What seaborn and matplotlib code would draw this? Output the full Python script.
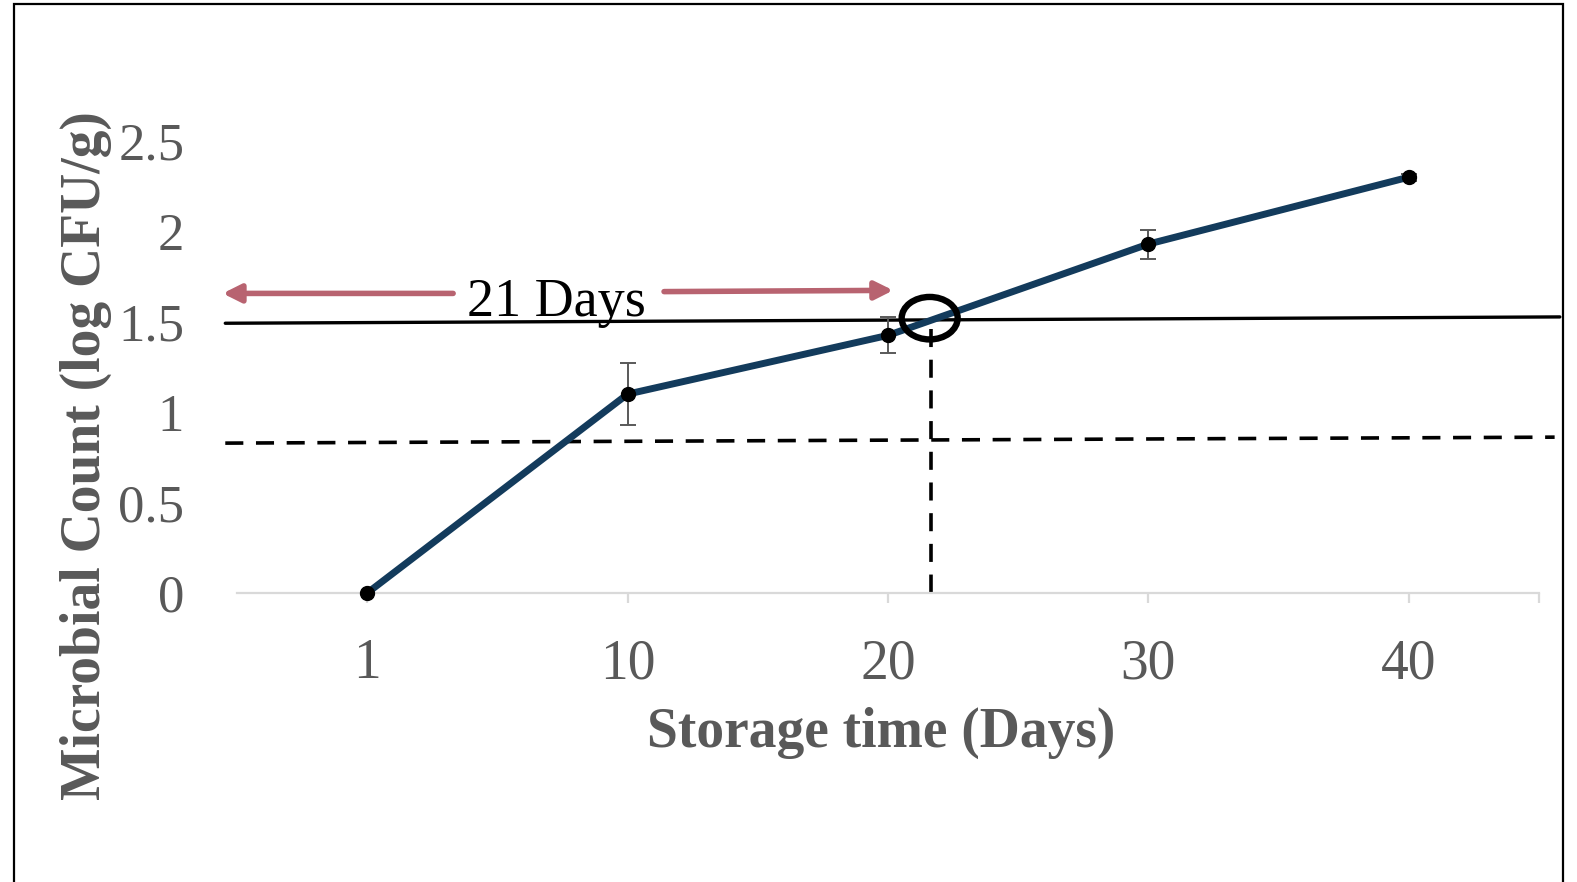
import matplotlib
matplotlib.use("Agg")
import matplotlib.pyplot as plt
import seaborn as sns
import pandas as pd
from matplotlib.patches import Ellipse, Rectangle

# ---- data ----
days = ["1", "10", "20", "30", "40"]
counts = [0.0, 1.10, 1.425, 1.93, 2.30]
errors = [0.0, 0.17, 0.10, 0.08, 0.02]
y_ticks = [0, 0.5, 1, 1.5, 2, 2.5]
y_tick_labels = ["0", "0.5", "1", "1.5", "2", "2.5"]

# annotation values
limit_line_x = [-0.545, 4.58]
limit_line_y = [1.492, 1.527]
dashed_line_x = [-0.545, 4.56]
dashed_line_y = [0.829, 0.862]
shelf_x = 2.165
shelf_y = [1.46, -0.06]
label_text = "21 Days"

sns.set_theme(style="white")
plt.rcParams["font.family"] = ["Liberation Serif", "DejaVu Serif"]

fig = plt.figure(figsize=(15.77, 8.82), dpi=100)
ax = fig.add_axes([237 / 1577, 1 - 593 / 882, 1302 / 1577, 452 / 882])

df = pd.DataFrame({"Day": days, "Count": counts, "Err": errors})

sns.lineplot(data=df, x="Day", y="Count", ax=ax, color="#133B5C",
             linewidth=5.0, sort=False, zorder=3, clip_on=False)
ax.errorbar(df["Day"], df["Count"], yerr=df["Err"], fmt="none",
            ecolor="#595959", elinewidth=1.4, capsize=6, capthick=1.4,
            zorder=2, clip_on=False)
ax.plot(df["Day"], df["Count"], "o", color="black", markersize=10,
        zorder=4, clip_on=False)

# annotations
ax.plot(limit_line_x, limit_line_y, color="black", lw=2.4, clip_on=False, zorder=1)
ax.plot(dashed_line_x, dashed_line_y, color="black", lw=2.6,
        linestyle=(0, (5, 3.5)), clip_on=False, zorder=1)
ax.plot([shelf_x, shelf_x], shelf_y, color="black", lw=2.6,
        linestyle=(0, (5, 3.5)), clip_on=False, zorder=1)
ax.add_patch(Ellipse((2.16, 1.52), 0.215, 0.235, fill=False, edgecolor="black",
                     lw=4.6, clip_on=False, zorder=5))

arrow_col = "#B86370"
ax.annotate("", xy=(-0.555, 1.657), xytext=(0.33, 1.657),
            arrowprops=dict(arrowstyle="-|>,head_length=0.9,head_width=0.45",
                            lw=4, color=arrow_col, shrinkA=0, shrinkB=0),
            annotation_clip=False)
ax.annotate("", xy=(2.02, 1.674), xytext=(1.14, 1.667),
            arrowprops=dict(arrowstyle="-|>,head_length=0.9,head_width=0.45",
                            lw=4, color=arrow_col, shrinkA=0, shrinkB=0),
            annotation_clip=False)
ax.text(0.728, 1.605, label_text, fontsize=39, color="black",
        ha="center", va="center", zorder=6)

# axes styling
ax.set_xlim(-0.5, 4.5)
ax.set_ylim(0, 2.5)
ax.set_yticks(y_ticks)
ax.set_yticklabels(y_tick_labels)
ax.set_xticks(range(len(days)))
ax.set_xticklabels(days)
ax.set_xticks([4.5], minor=True)
for s in ["top", "right", "left"]:
    ax.spines[s].set_visible(False)
ax.spines["bottom"].set_color("#D9D9D9")
ax.spines["bottom"].set_linewidth(1.6)
ax.tick_params(axis="x", which="both", length=7.5, width=1.6, color="#D9D9D9",
               labelsize=40, labelcolor="#595959", pad=25, bottom=True)
ax.tick_params(axis="y", length=0, labelsize=38, labelcolor="#595959", pad=38)
for t in ax.get_yticklabels():
    t.set_va("center_baseline")
ax.grid(False)

lab_kw = dict(fontsize=40, fontweight="bold", color="#595959")
ax.set_xlabel("Storage time (Days)", **lab_kw)
ax.set_ylabel("Microbial Count (log CFU/g)", **lab_kw)
ax.xaxis.set_label_coords(0.495, -0.31)
ax.yaxis.set_label_coords(-0.116, 0.305)
ax.xaxis.label.set_va("center")
ax.yaxis.label.set_va("center")

# outer frame
fig.add_artist(Rectangle((14 / 1577, -0.1), (1563 - 14) / 1577, 1.1 - 3.5 / 882,
                         transform=fig.transFigure, fill=False,
                         edgecolor="black", lw=1.6))

fig.savefig("out.png", dpi=100)
